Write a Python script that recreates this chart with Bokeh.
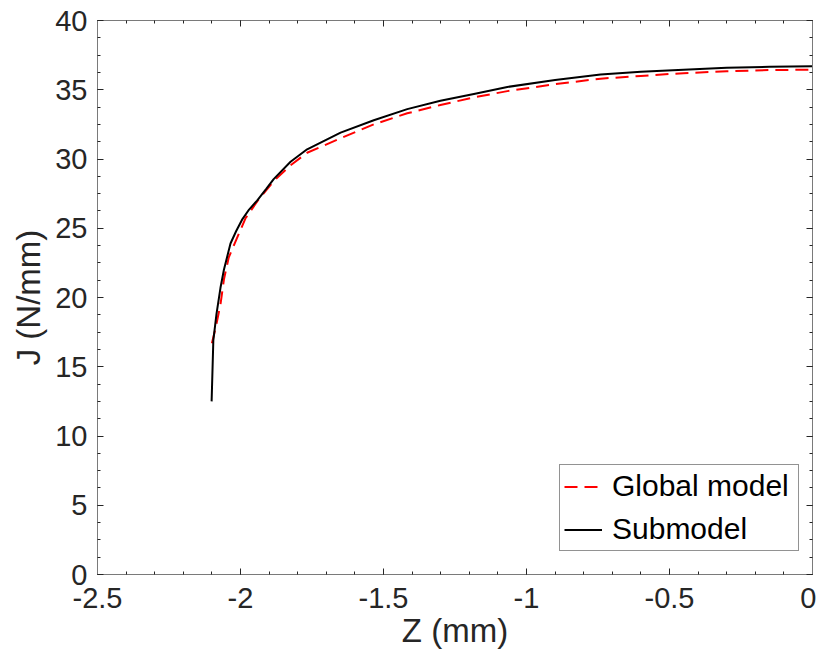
from bokeh.plotting import figure
from bokeh.models import LinearAxis, FixedTicker, Range1d, Legend, LegendItem
from bokeh.embed import file_html
from bokeh.resources import INLINE
import numpy as np

# Global model (red dashed)
z_global = [-2.100, -2.087, -2.070, -2.058, -2.041, -2.012, -1.983, -1.936, -1.884, -1.825,
            -1.767, -1.650, -1.534, -1.417, -1.301, -1.184, -1.067, -0.900, -0.741, -0.600,
            -0.451, -0.300, -0.150, 0.0]
j_global = [16.7, 17.8, 19.5, 21.3, 22.9, 24.3, 25.7, 27.1, 28.4, 29.55,
            30.45, 31.5, 32.5, 33.3, 33.9, 34.45, 34.9, 35.4, 35.8, 36.0,
            36.2, 36.33, 36.42, 36.45]

# Submodel (black solid)
z_sub = [-2.101, -2.095, -2.084, -2.070, -2.058, -2.035, -2.015, -1.995, -1.970,
         -1.942, -1.910, -1.884, -1.825, -1.767, -1.650, -1.534, -1.417, -1.301, -1.184, -1.067,
         -0.900, -0.741, -0.600, -0.451, -0.300, -0.150, 0.0]
j_sub = [12.5, 16.9, 18.8, 20.7, 22.0, 23.9, 24.8, 25.6, 26.35,
         27.0, 27.85, 28.55, 29.8, 30.7, 31.9, 32.8, 33.6, 34.2, 34.7, 35.2,
         35.7, 36.1, 36.3, 36.45, 36.58, 36.66, 36.7]

x_ticks = [-2.5, -2.0, -1.5, -1.0, -0.5, 0.0]
x_tick_labels = ["-2.5", "-2", "-1.5", "-1", "-0.5", "0"]
y_ticks = [0, 5, 10, 15, 20, 25, 30, 35, 40]
y_tick_labels = ["0", "5", "10", "15", "20", "25", "30", "35", "40"]

FONT = "Liberation Sans"
AX = "#262626"

p = figure(frame_width=715, frame_height=554, output_backend="svg", toolbar_location=None,
           x_range=Range1d(-2.5, 0), y_range=Range1d(0, 40),
           min_border_left=97, min_border_right=4, min_border_top=20, min_border_bottom=80)
p.xgrid.visible = False
p.ygrid.visible = False
p.outline_line_color = "#7a7a7a"
p.background_fill_color = "white"
p.border_fill_color = "white"

x_minor = list(np.round(np.arange(-2.5, 0.0001, 0.1), 3))
y_minor = list(np.round(np.arange(0, 40.0001, 1.25), 3))
xt = FixedTicker(ticks=x_ticks, minor_ticks=x_minor)
yt = FixedTicker(ticks=y_ticks, minor_ticks=y_minor)

def style(ax, labels, show):
    ax.major_tick_in = 6
    ax.major_tick_out = 0
    ax.minor_tick_in = 3
    ax.minor_tick_out = 0
    ax.axis_line_color = "#7a7a7a"
    ax.major_tick_line_color = AX
    ax.minor_tick_line_color = AX
    if show:
        ax.major_label_text_font = FONT
        ax.major_label_text_font_size = "29px"
        ax.major_label_text_color = AX
        ax.axis_label_text_font = FONT
        ax.axis_label_text_font_size = "33px"
        ax.axis_label_text_font_style = "normal"
        ax.axis_label_text_color = AX
        ax.major_label_overrides = labels
    else:
        ax.major_label_overrides = labels
        ax.major_label_standoff = 0
        ax.axis_label_standoff = 0

xlab = {v: s for v, s in zip(x_ticks, x_tick_labels)}
ylab = {v: s for v, s in zip(y_ticks, y_tick_labels)}

p.xaxis.ticker = xt
p.yaxis.ticker = yt
style(p.xaxis[0], xlab, True)
style(p.yaxis[0], ylab, True)
p.xaxis.axis_label = "Z (mm)"
p.yaxis.axis_label = "J (N/mm)"
p.xaxis.major_label_standoff = 13
p.yaxis.major_label_standoff = 10
p.xaxis.axis_label_standoff = 1
p.yaxis.axis_label_standoff = 5

top = LinearAxis(ticker=xt)
right = LinearAxis(ticker=yt)
style(top, {v: "" for v in x_ticks}, False)
style(right, {v: "" for v in y_ticks}, False)
p.add_layout(top, "above")
p.add_layout(right, "right")

rg = p.line(z_global, j_global, line_color="#ff0000", line_width=2, line_dash="13 7")
rs = p.line(z_sub, j_sub, line_color="black", line_width=2)

legend = Legend(items=[LegendItem(label="Global model", renderers=[rg]),
                       LegendItem(label="Submodel", renderers=[rs])],
                location=(462, 23), margin=0, padding=4, spacing=9,
                glyph_width=38, glyph_height=33, label_height=33,
                label_standoff=10, label_text_font=FONT, label_text_font_size="30px",
                label_text_color="black",
                border_line_color=AX, border_line_width=1,
                background_fill_color="white", background_fill_alpha=1.0)
legend.label_width = 182
p.add_layout(legend, "center")

open("out.html", "w").write(file_html(p, INLINE))
